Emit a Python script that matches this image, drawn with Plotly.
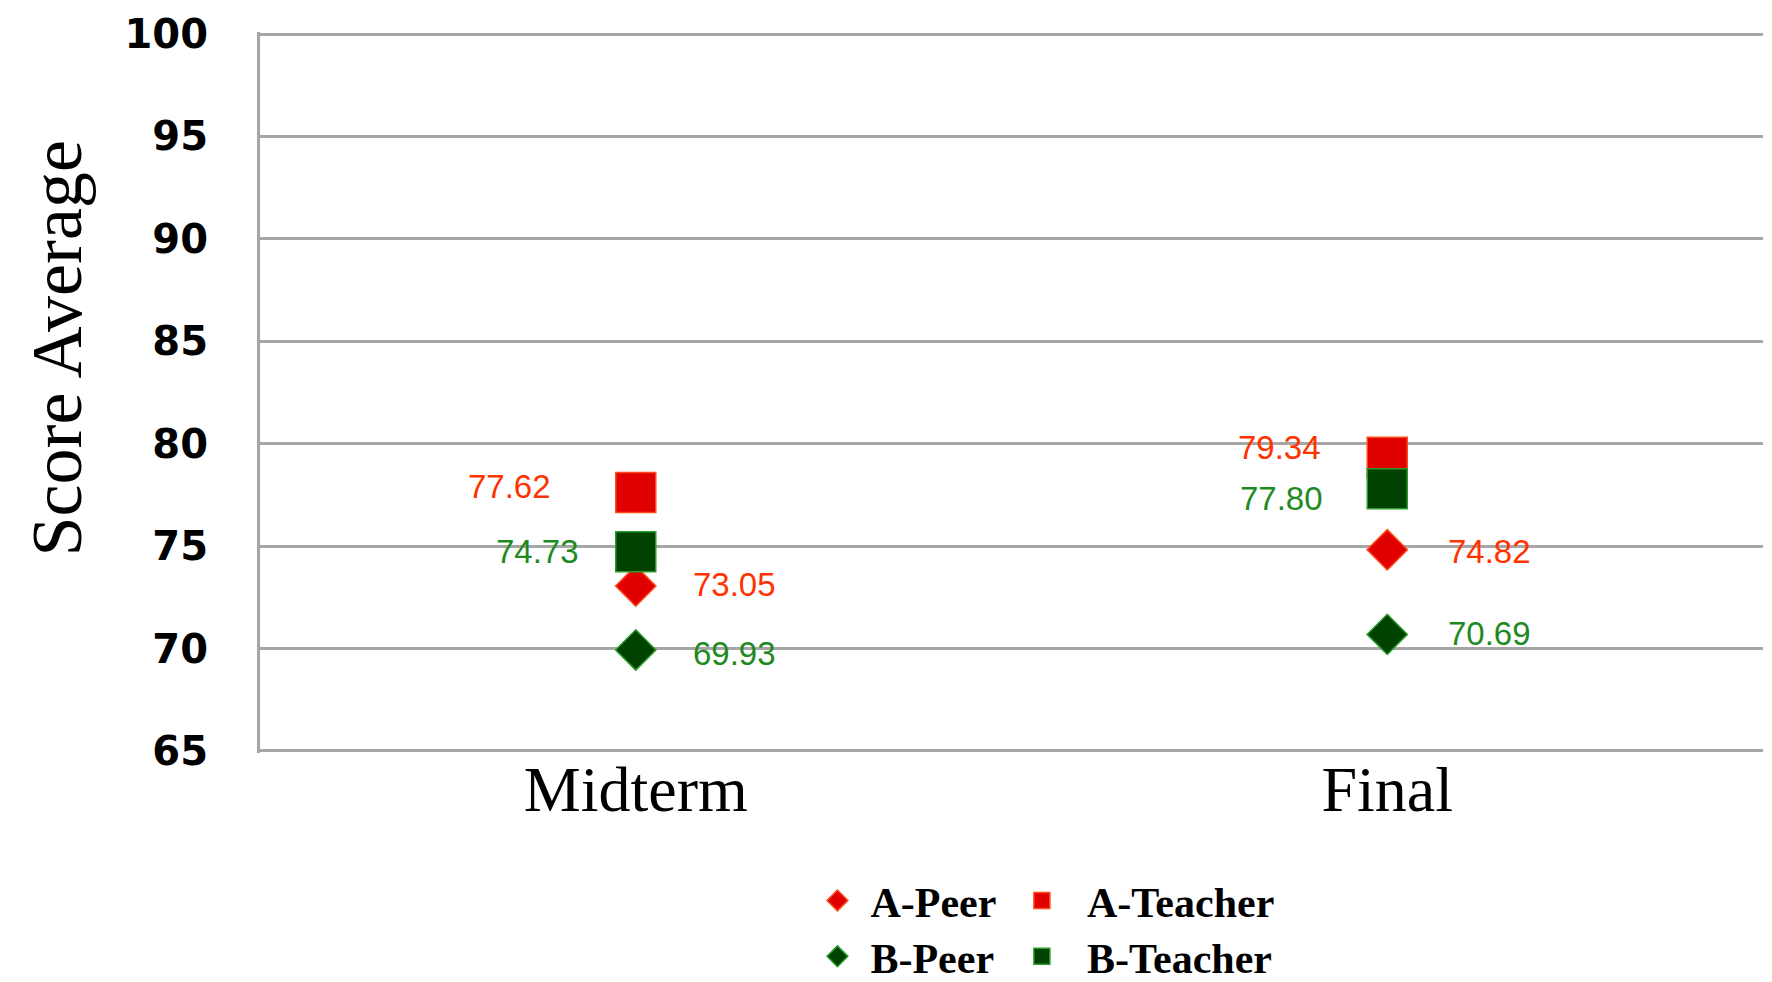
import plotly.graph_objects as go

exams = ['Midterm', 'Final']
a_peer = [73.05, 74.82]
a_teacher = [77.62, 79.34]
b_peer = [69.93, 70.69]
b_teacher = [74.73, 77.80]
y_ticks = [65, 70, 75, 80, 85, 90, 95, 100]

RED = '#e00000'
RED_EDGE = '#ff4a1a'
GREEN = '#004200'
GREEN_EDGE = '#2a9a2a'
RED_TEXT = '#ff3300'
GREEN_TEXT = '#1f8a1f'

# page has an 8px body margin, so the figure is drawn 8px smaller
W, H = 1764, 974

series = [
    dict(name='A-Peer', y=a_peer, symbol='diamond', size=31, color=RED, edge=RED_EDGE, legend='legend'),
    dict(name='A-Teacher', y=a_teacher, symbol='square', size=40, color=RED, edge=RED_EDGE, legend='legend2'),
    dict(name='B-Peer', y=b_peer, symbol='diamond', size=31, color=GREEN, edge=GREEN_EDGE, legend='legend3'),
    dict(name='B-Teacher', y=b_teacher, symbol='square', size=40, color=GREEN, edge=GREEN_EDGE, legend='legend4'),
]

fig = go.Figure()
for s in series:
    fig.add_trace(go.Scatter(
        x=exams, y=s['y'], name=s['name'], mode='markers', legend=s['legend'],
        showlegend=True,
        marker=dict(symbol=s['symbol'], size=s['size'], color=s['color'],
                    line=dict(color=s['edge'], width=1.5)),
    ))

# value labels: (series values, colour, side, xshift, yshift per exam)
label_specs = [
    (a_teacher, RED_TEXT, 'right', [-83, -64], [6, 10]),
    (b_teacher, GREEN_TEXT, 'right', [-55, -62], [0, -10]),
    (a_peer, RED_TEXT, 'left', [55, 59], [2, -2]),
    (b_peer, GREEN_TEXT, 'left', [55, 59], [-4, 1]),
]
for vals, col, anchor, xs, ys in label_specs:
    for i, ex in enumerate(exams):
        fig.add_annotation(
            x=ex, y=vals[i], text='{:.2f}'.format(vals[i]), showarrow=False,
            xanchor=anchor, yanchor='middle', xshift=xs[i], yshift=ys[i],
            font=dict(family='Liberation Sans', size=33, color=col),
        )

fig.add_annotation(
    text='Score Average', xref='paper', yref='paper', x=0, y=0.5,
    xshift=-204, yshift=44, textangle=-90, showarrow=False,
    xanchor='center', yanchor='middle',
    font=dict(family='Liberation Serif', size=72, color='black'),
)

fig.update_xaxes(
    type='category', range=[-0.5, 1.5], showgrid=False, showline=False,
    zeroline=False, ticks='', ticklabelstandoff=-7, automargin=False,
    tickfont=dict(family='Liberation Serif', size=64, color='black'),
)
fig.update_yaxes(
    range=[64.9, 100.1], tickvals=y_ticks, showgrid=True, gridcolor='#a6a6a6', gridwidth=3,
    showline=True, linecolor='#a6a6a6', linewidth=3, zeroline=False, ticks='',
    ticklabelstandoff=41, automargin=False,
    tickfont=dict(family='DejaVu Sans', size=40, color='black', weight='bold'),
)

legend_font = dict(family='Liberation Serif', size=42, color='black', weight='bold')
leg = dict(orientation='h', xref='container', yref='container', xanchor='left',
           yanchor='middle', font=legend_font, itemwidth=56, bgcolor='rgba(0,0,0,0)')
fig.update_layout(
    width=W, height=H,
    margin=dict(l=252, r=9, t=24, b=229),
    plot_bgcolor='white', paper_bgcolor='white',
    showlegend=True,
    legend=dict(leg, x=0.4515, y=0.0835),
    legend2=dict(leg, x=0.5606, y=0.0835, itemwidth=80),
    legend3=dict(leg, x=0.4515, y=0.0262),
    legend4=dict(leg, x=0.5606, y=0.0262, itemwidth=80),
)

fig.write_html('out.html')
